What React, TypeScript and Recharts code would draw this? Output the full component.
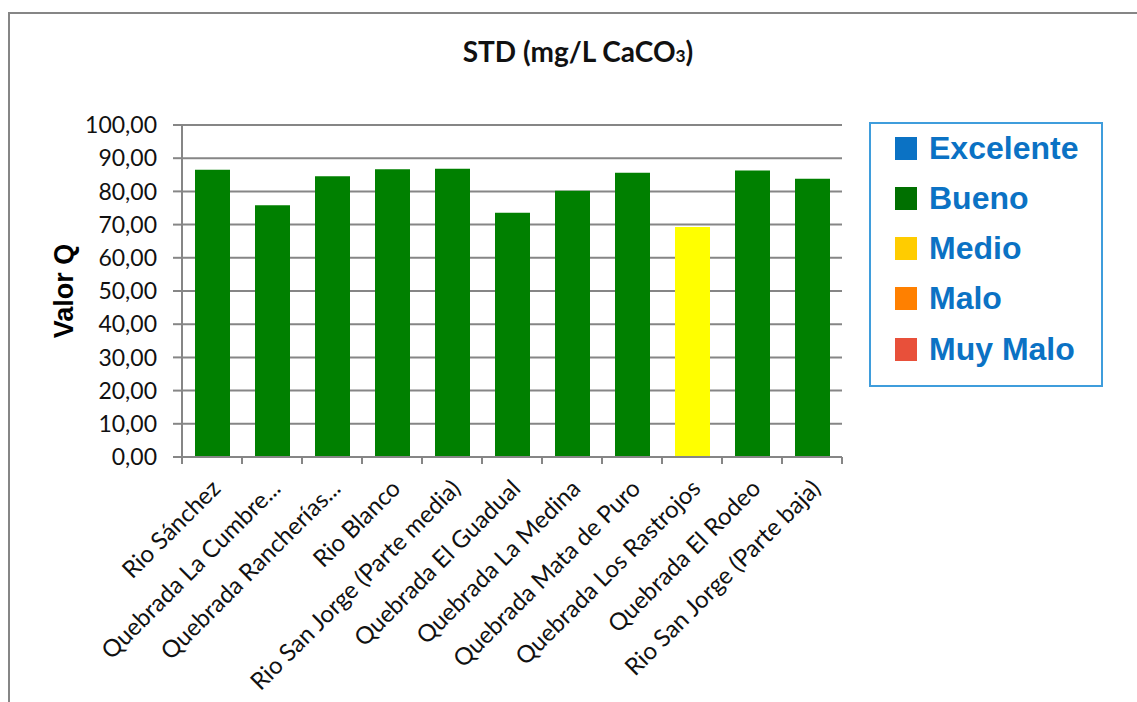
import { BarChart, Bar, XAxis, YAxis, CartesianGrid, Cell } from 'recharts';

// Water quality index (Q value) for total dissolved solids per sampling site
const sites = [
  'Rio Sánchez',
  'Quebrada La Cumbre...',
  'Quebrada Rancherías...',
  'Rio Blanco',
  'Rio San Jorge (Parte media)',
  'Quebrada El Guadual',
  'Quebrada La Medina',
  'Quebrada Mata de Puro',
  'Quebrada Los Rastrojos',
  'Quebrada El Rodeo',
  'Rio San Jorge (Parte baja)',
];
const qValues = [86.5, 75.8, 84.6, 86.7, 86.8, 73.6, 80.2, 85.6, 69.3, 86.3, 83.8];
const yTicks = [0, 10, 20, 30, 40, 50, 60, 70, 80, 90, 100];

// quality classes: lower bound of the range, legend swatch, bar fill
const classNames = ['Excelente', 'Bueno', 'Medio', 'Malo', 'Muy Malo'];
const classMins = [90, 70, 50, 25, 0];
const classSwatches = ['#0b72c4', '#007000', '#ffcc00', '#ff8000', '#e8503a'];
const classBars = ['#0070c0', '#008000', '#ffff00', '#ff8000', '#e8503a'];

const data = sites.map((name, i) => ({ name, q: qValues[i] }));

const W = 1137;
const H = 702;
const LEFT = 182;
const RIGHT = 842;
const TOP = 125;
const BOTTOM = 457;
const STEP = (RIGHT - LEFT) / sites.length;
const AXIS = '#868686';

const classOf = (v: number) => classMins.findIndex((m) => v > m);
const fmt = (v: number) => v.toFixed(2).replace('.', ',');

function SiteTick(props: any) {
  const { x, y, payload, index } = props;
  const left = x - STEP / 2;
  return (
    <g>
      <line x1={left} x2={left} y1={y} y2={y + 7} stroke={AXIS} strokeWidth={2} />
      {index === sites.length - 1 && (
        <line x1={left + STEP} x2={left + STEP} y1={y} y2={y + 7} stroke={AXIS} strokeWidth={2} />
      )}
      <text
        transform={`translate(${x + 10},${y + 33}) rotate(-45)`}
        textAnchor="end"
        fontFamily="Lato"
        fontSize={24}
        fill="#111"
      >
        {payload.value}
      </text>
    </g>
  );
}

export default function App() {
  return (
    <div style={{ position: 'absolute', left: 0, top: 0, width: W, height: H, background: '#fff', overflow: 'hidden' }}>
      <div
        style={{
          position: 'absolute',
          left: 8,
          top: 12,
          width: W - 8,
          height: H - 12,
          borderTop: `2px solid ${AXIS}`,
          borderLeft: `2px solid ${AXIS}`,
        }}
      />
      <div
        style={{
          position: 'absolute',
          left: 0,
          width: 1156,
          top: 34,
          textAlign: 'center',
          fontFamily: 'Lato',
          fontWeight: 700,
          fontSize: 28,
          color: '#111',
        }}
      >
        STD (mg/L CaCO<span style={{ fontSize: '0.62em' }}>3</span>)
      </div>

      <BarChart
        width={W}
        height={H}
        data={data}
        margin={{ top: TOP, right: W - RIGHT, bottom: 0, left: 0 }}
        style={{ position: 'absolute', left: 0, top: 0 }}
      >
        <CartesianGrid horizontal vertical={false} stroke={AXIS} strokeWidth={2} />
        <YAxis
          width={LEFT}
          domain={[0, 100]}
          ticks={yTicks}
          interval={0}
          tickFormatter={fmt}
          tickSize={9}
          tickMargin={16}
          axisLine={{ stroke: AXIS, strokeWidth: 2 }}
          tickLine={{ stroke: AXIS, strokeWidth: 2 }}
          tick={{ fontFamily: 'Lato', fontSize: 23, fill: '#111' }}
          label={{
            content: (p: any) => {
              const cx = 73;
              const cy = p.viewBox.y + p.viewBox.height / 2;
              return (
                <text
                  x={cx}
                  y={cy}
                  transform={`rotate(-90, ${cx}, ${cy})`}
                  textAnchor="middle"
                  fontFamily="Liberation Sans"
                  fontWeight={700}
                  fontSize={27}
                  fill="#000"
                >
                  Valor Q
                </text>
              );
            },
          }}
        />
        <XAxis
          dataKey="name"
          height={H - BOTTOM}
          interval={0}
          tickSize={0}
          tickMargin={0}
          tickLine={false}
          axisLine={{ stroke: AXIS, strokeWidth: 2 }}
          tick={<SiteTick />}
        />
        <Bar dataKey="q" barSize={35} isAnimationActive={false}>
          {data.map((d, i) => (
            <Cell key={i} fill={classBars[classOf(d.q)]} />
          ))}
        </Bar>
      </BarChart>

      <div
        style={{
          position: 'absolute',
          left: 869,
          top: 122,
          width: 230,
          height: 261,
          border: '2px solid #3f9ddc',
          fontFamily: 'Liberation Sans',
          fontWeight: 700,
          fontSize: 32,
          color: '#0b72c4',
        }}
      >
        {classNames.map((name, i) => (
          <div
            key={name}
            style={{ position: 'absolute', left: 24, top: 11 + i * 50.3, height: 26, display: 'flex', alignItems: 'center' }}
          >
            <span style={{ width: 22, height: 23, background: classSwatches[i], marginRight: 12 }} />
            <span>{name}</span>
          </div>
        ))}
      </div>
    </div>
  );
}
